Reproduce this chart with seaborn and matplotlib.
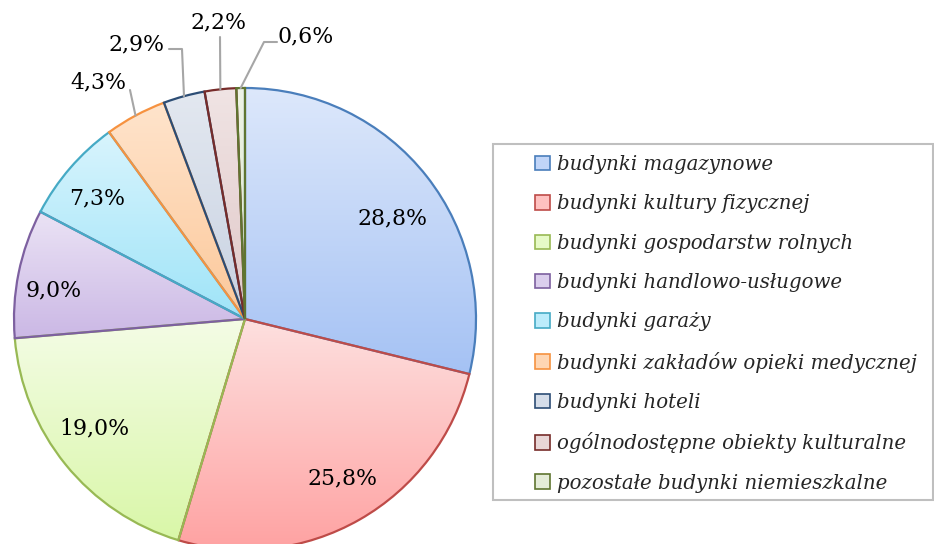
import matplotlib
matplotlib.use('Agg')
import matplotlib.pyplot as plt
import matplotlib.colors as mcolors
from matplotlib.patches import Patch, Rectangle
import seaborn as sns
import numpy as np

# Data
categories = ['budynki magazynowe', 'budynki kultury fizycznej', 'budynki gospodarstw rolnych',
              'budynki handlowo-usługowe', 'budynki garaży', 'budynki zakładów opieki medycznej',
              'budynki hoteli', 'ogólnodostępne obiekty kulturalne', 'pozostałe budynki niemieszkalne']
shares = [28.8, 25.8, 19.0, 9.0, 7.3, 4.3, 2.9, 2.2, 0.6]
pct_labels = ['28,8%', '25,8%', '19,0%', '9,0%', '7,3%', '4,3%', '2,9%', '2,2%', '0,6%']

# Styles: gradient top, gradient bottom, edge
grad_top = ['#dde8fb', '#fde0df', '#f4fce6', '#ebe3f5', '#d8f4fd', '#ffe4cc', '#e3e8f0', '#f0e4e4', '#eef3e6']
grad_bot = ['#a5c2f4', '#ffa2a2', '#d9f7a8', '#cbb8e5', '#9fe4f8', '#fcc89a', '#c8d2e2', '#e0c8c8', '#dbe6c9']
edges = ['#4a7ebb', '#be4b48', '#98b954', '#7d60a0', '#46aac5', '#f69240', '#2c4d75', '#772c2a', '#5f7530']

# Layout in pixels
W, H = 934, 544
CX, CY, R = 245, 319, 231
label_px = [(393, 218), (343, 478), (94, 428), (54, 290), (97, 198),
            (98, 82), (137, 44), (219, 22), (306, 36)]

sns.set_theme(style='white')
plt.rcParams['font.family'] = ['DejaVu Serif']

fig = plt.figure(figsize=(W / 100, H / 100), dpi=100)
ax = fig.add_axes([(CX - R) / W, (H - CY - R) / H, 2 * R / W, 2 * R / H])

wedges, _ = ax.pie(shares, startangle=90, counterclock=False, radius=1,
                   colors=['none'] * len(shares),
                   wedgeprops=dict(linewidth=1.6, zorder=3))


def px2data(px, py):
    return (px - CX) / R, (CY - py) / R


for i, w in enumerate(wedges):
    w.set_edgecolor(edges[i])
    w.set_facecolor('none')
    w.set_clip_on(False)
    ext = w.get_path().get_extents()
    c0 = np.array(mcolors.to_rgb(grad_top[i]))
    c1 = np.array(mcolors.to_rgb(grad_bot[i]))
    t = np.linspace(0, 1, 256)[:, None]
    img = (c0 * (1 - t) + c1 * t)[:, None, :]
    im = ax.imshow(img, extent=[ext.x0, ext.x1, ext.y0, ext.y1], origin='upper',
                   aspect='auto', zorder=2, interpolation='bilinear')
    im.set_clip_path(w)

    lx, ly = px2data(*label_px[i])
    ax.text(lx, ly, pct_labels[i], ha='center', va='center', fontsize=15.8,
            color='black', zorder=5, clip_on=False)
ax.set_xlim(-1, 1)
ax.set_ylim(-1, 1)
ax.set_aspect('equal')
ax.axis('off')


# leader lines for small slices
def outer_mid(i):
    a = np.deg2rad((wedges[i].theta1 + wedges[i].theta2) / 2)
    return np.cos(a), np.sin(a)


leaders = {5: [(130, 90)], 6: [(169, 49), (182, 49)], 7: [(220, 37)], 8: [(277, 42), (264, 42)]}
for i, pts in leaders.items():
    xs = [px2data(*p)[0] for p in pts]
    ys = [px2data(*p)[1] for p in pts]
    ex, ey = outer_mid(i)
    ax.plot(xs + [ex], ys + [ey], color='#a6a6a6', lw=1.5, zorder=4, clip_on=False)

# Legend frame
fig.patches.append(Rectangle((493 / W, 1 - 500 / H), 440 / W, 356 / H, transform=fig.transFigure,
                             facecolor='white', edgecolor='#bfbfbf', linewidth=1.5, zorder=0))

handles = [Patch(facecolor=mcolors.to_hex((np.array(mcolors.to_rgb(grad_top[i])) +
                                           np.array(mcolors.to_rgb(grad_bot[i]))) / 2),
                 edgecolor=edges[i], linewidth=1.2, label=categories[i])
           for i in range(len(categories))]
leg = fig.legend(handles=handles, loc='upper left',
                 bbox_to_anchor=(535 / W, 1 - 155 / H), bbox_transform=fig.transFigure,
                 prop=dict(family='DejaVu Serif', style='italic', size=14.2),
                 frameon=False, handlelength=0.75, handleheight=0.75, handletextpad=0.35,
                 labelspacing=1.03, borderpad=0, borderaxespad=0)

plt.savefig('out.png', dpi=100)
